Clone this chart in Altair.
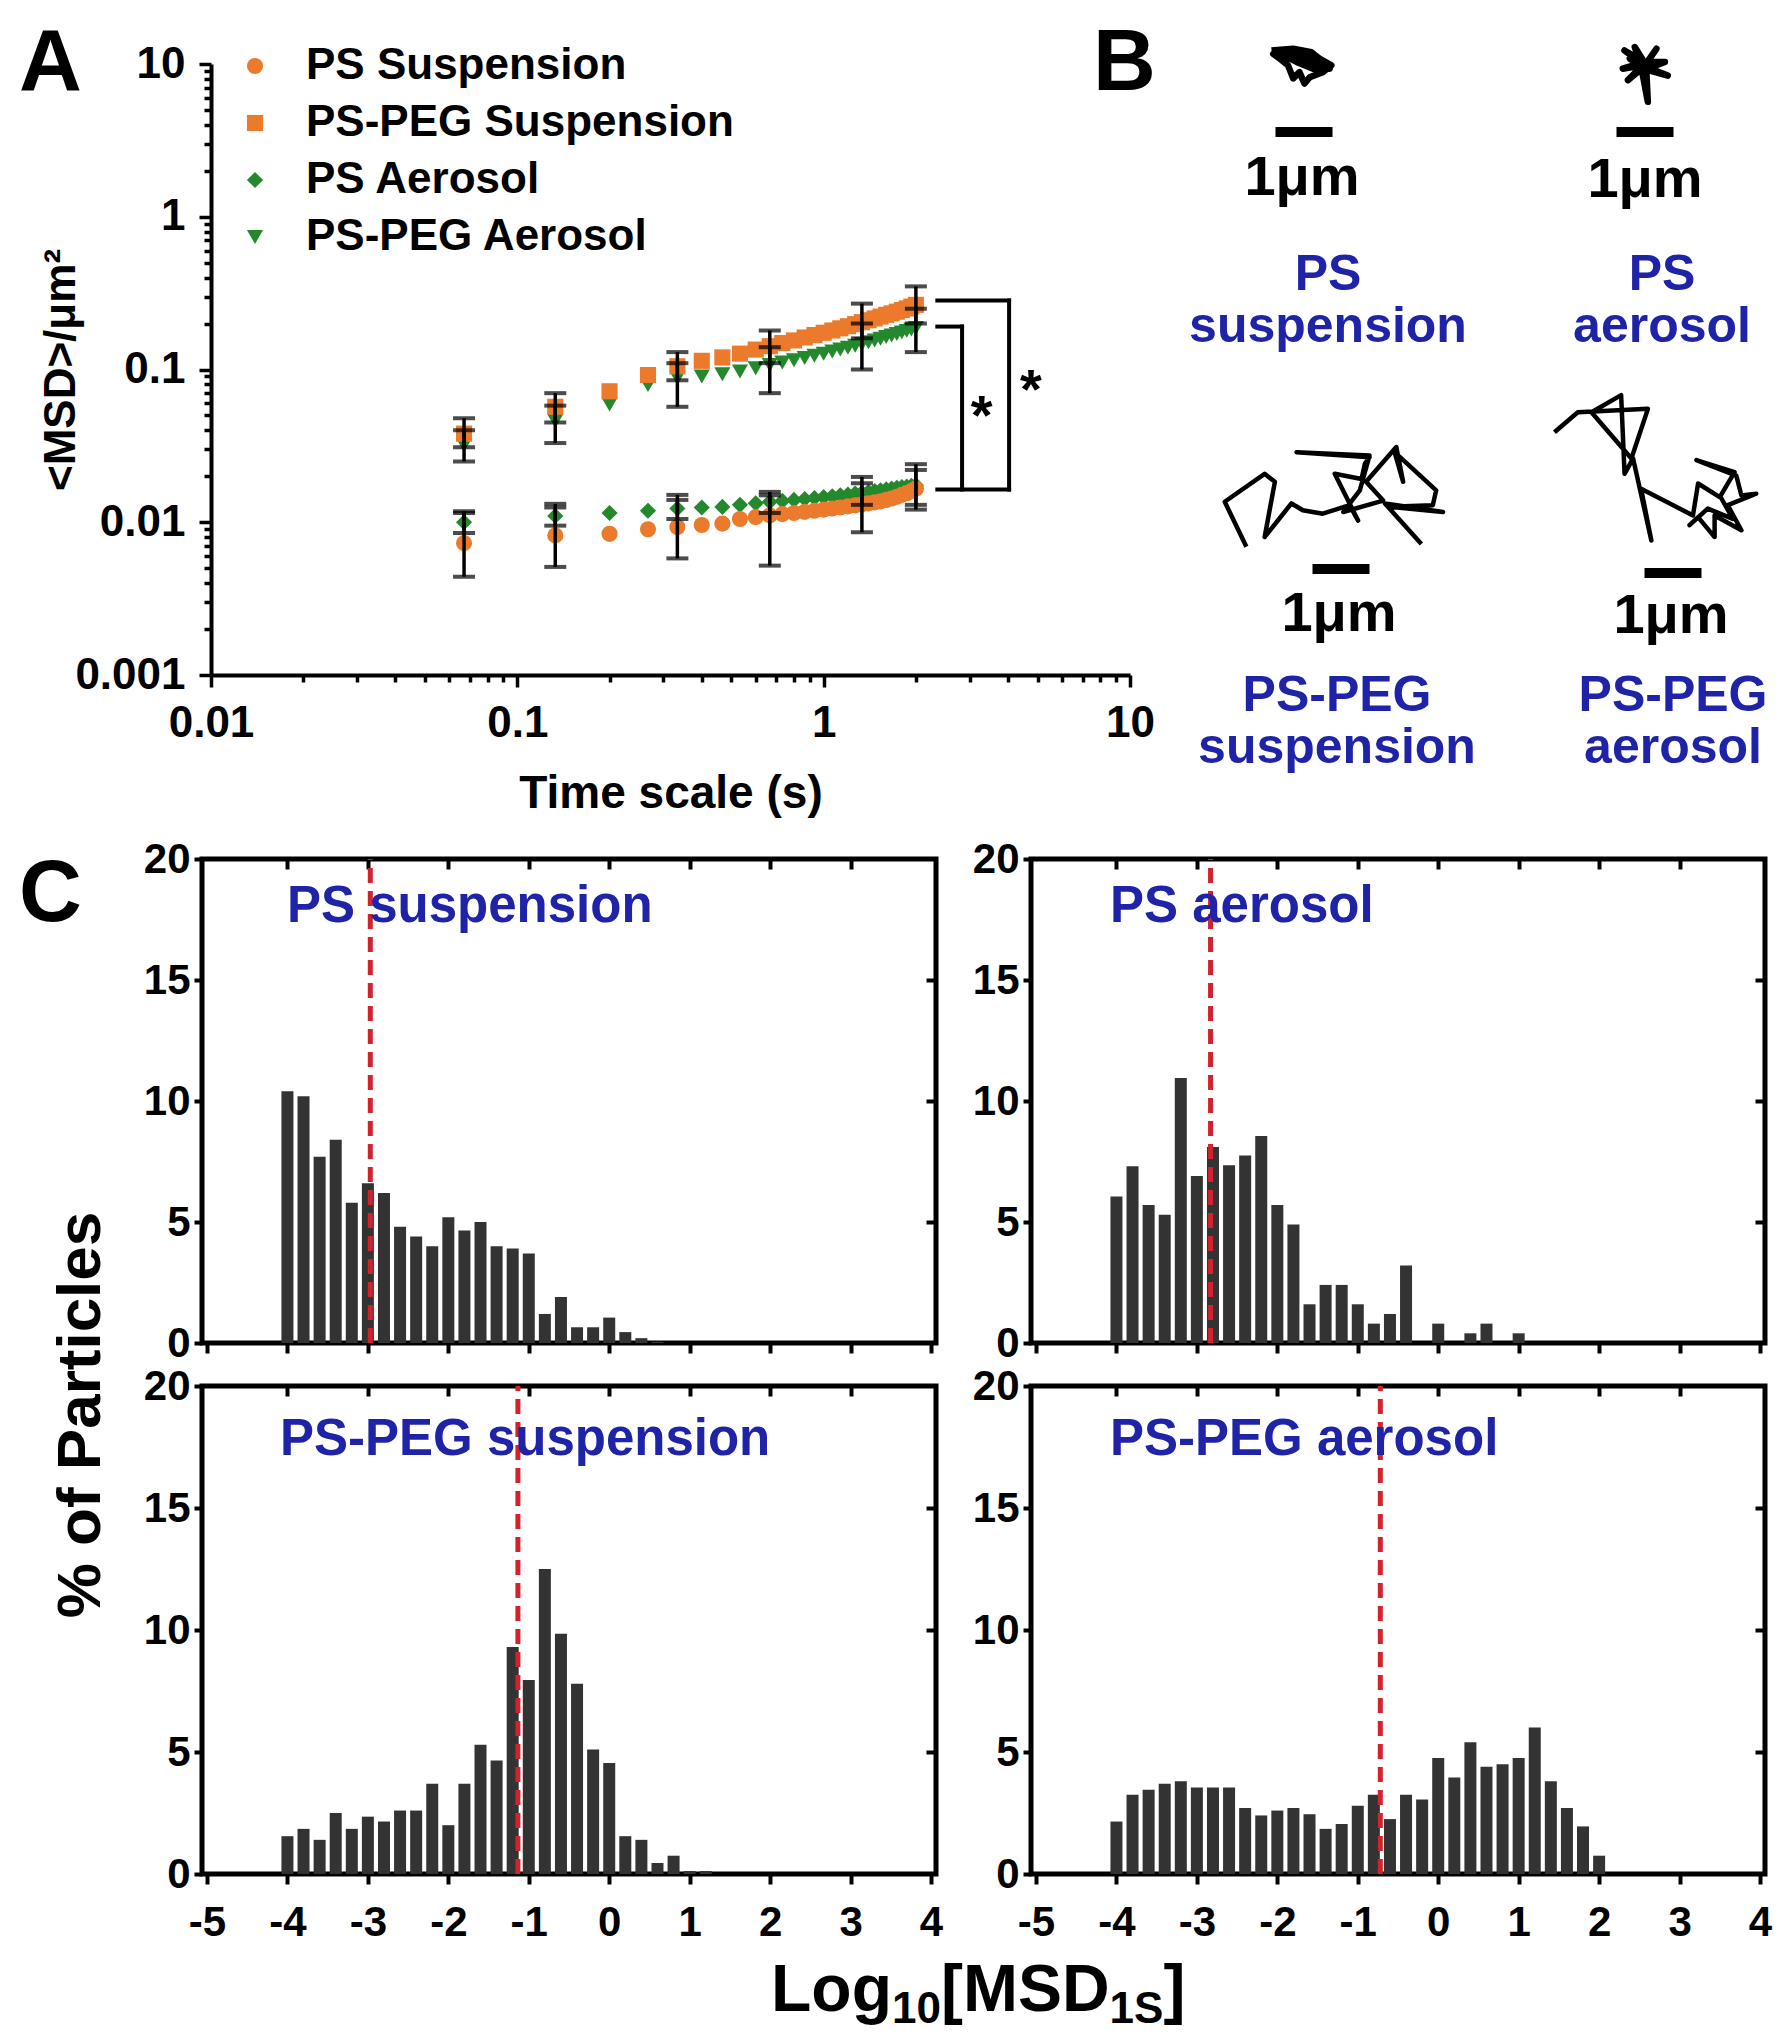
import altair as alt
import pandas as pd

FONT = "Liberation Sans"
ORANGE = "#EC7A2C"
GREEN = "#24882C"
BLUE = "#1F23A8"
RED = "#D2232C"
BARGRAY = "#333333"

# ---------------- Panel A data ----------------
t_s = [0.067, 0.133, 0.2, 0.267, 0.333, 0.4, 0.467, 0.533, 0.6, 0.667,
       0.733, 0.8, 0.867, 0.933, 1.0, 1.067, 1.133, 1.2, 1.267, 1.333,
       1.4, 1.467, 1.533, 1.6, 1.667, 1.733, 1.8, 1.867, 1.933, 2.0]
msd_ps_susp = [0.0073, 0.0082, 0.0084, 0.0090, 0.0093, 0.0096, 0.0098, 0.0105, 0.0108, 0.0111,
               0.0113, 0.0115, 0.0117, 0.0119, 0.0121, 0.0123, 0.0125, 0.0127, 0.0129, 0.0131,
               0.0133, 0.0135, 0.0137, 0.0140, 0.0143, 0.0147, 0.0151, 0.0155, 0.0160, 0.0166]
msd_peg_susp = [0.038, 0.057, 0.072, 0.092, 0.105, 0.114, 0.120, 0.127, 0.135, 0.142,
                0.149, 0.155, 0.162, 0.168, 0.174, 0.180, 0.186, 0.192, 0.198, 0.204,
                0.210, 0.216, 0.222, 0.228, 0.233, 0.239, 0.245, 0.251, 0.258, 0.265]
msd_ps_aero = [0.0100, 0.0110, 0.0115, 0.0119, 0.0123, 0.0125, 0.0126, 0.0130, 0.0133, 0.0136,
               0.0138, 0.0140, 0.0142, 0.0144, 0.0146, 0.0148, 0.0150, 0.0152, 0.0154, 0.0156,
               0.0158, 0.0160, 0.0162, 0.0164, 0.0166, 0.0168, 0.0170, 0.0171, 0.0173, 0.0175]
msd_peg_aero = [0.032, 0.046, 0.059, 0.079, 0.088, 0.090, 0.093, 0.097, 0.102, 0.107,
                0.111, 0.115, 0.119, 0.123, 0.127, 0.131, 0.135, 0.139, 0.143, 0.147,
                0.151, 0.155, 0.159, 0.163, 0.167, 0.171, 0.175, 0.179, 0.183, 0.187]
series_names = ["PS Suspension", "PS-PEG Suspension", "PS Aerosol", "PS-PEG Aerosol"]

err_t = [0.067, 0.133, 0.333, 0.667, 1.333, 2.0]
err_lo_ps_susp = [0.0044, 0.0051, 0.0058, 0.0052, 0.0086, 0.0121]
err_hi_ps_susp = [0.0115, 0.0125, 0.0140, 0.0150, 0.0180, 0.0220]
err_lo_peg_susp = [0.031, 0.045, 0.085, 0.110, 0.160, 0.200]
err_hi_peg_susp = [0.048, 0.070, 0.130, 0.180, 0.270, 0.350]
err_lo_ps_aero = [0.0085, 0.0095, 0.0105, 0.0115, 0.0130, 0.0130]
err_hi_ps_aero = [0.0118, 0.0132, 0.0151, 0.0158, 0.0198, 0.0240]
err_lo_peg_aero = [0.025, 0.033, 0.057, 0.070, 0.100, 0.130]
err_hi_peg_aero = [0.040, 0.058, 0.110, 0.140, 0.200, 0.250]

bracket_x1 = [2.35, 4.03, 2.35, 2.35, 2.83]
bracket_x2 = [4.03, 4.03, 4.03, 2.83, 2.83]
bracket_y1 = [0.283, 0.283, 0.0164, 0.191, 0.191]
bracket_y2 = [0.283, 0.0164, 0.0164, 0.191, 0.0164]
star_x = [3.28, 4.75]
star_y = [0.055, 0.082]

# ---------------- Panel B data (trajectories, um, relative to the scale bar centre) ----------------
traj_ps_susp_x = [-0.57, -0.19, 0.13, 0.27, 0.48, 0.33, 0.10, 0.01, -0.08, -0.19, -0.28, -0.43,
                  -0.54, -0.34, -0.02, 0.22, 0.45, 0.16, -0.13, -0.37, -0.02, 0.27, 0.04, -0.25]
traj_ps_susp_y = [1.43, 1.46, 1.40, 1.29, 1.17, 1.05, 0.96, 0.85, 1.05, 0.94, 1.17, 1.29,
                  1.37, 1.37, 1.26, 1.20, 1.11, 1.11, 1.23, 1.35, 1.35, 1.23, 1.17, 1.29]
traj_ps_aero_x = [-0.01, -0.36, 0.02, 0.20, -0.04, 0.40, 0.02, 0.05, -0.06, -0.30, -0.04, -0.39,
                  0.00, 0.35, -0.04, -0.18, 0.02, -0.27, 0.08]
traj_ps_aero_y = [1.17, 1.43, 1.20, 1.46, 1.11, 0.99, 1.14, 0.53, 1.11, 0.91, 1.17, 1.11,
                  1.23, 1.23, 1.08, 1.49, 1.17, 1.29, 1.05]
traj_peg_susp_x = [-1.66, -2.04, -1.34, -1.16, -1.34, -0.87, -0.67, -0.32, 0.15, 0.30, -0.11, 0.36,
                   0.42, 0.50, -0.78, 0.50, 0.33, 0.04, 0.74, 0.44, 0.97, 1.09, 0.94, 1.67, 1.61,
                   0.85, 1.79, 0.77, 1.41]
traj_peg_susp_y = [0.39, 1.18, 1.67, 1.53, 0.56, 1.15, 1.03, 0.97, 1.12, 0.85, 1.67, 1.58,
                   1.85, 1.96, 2.05, 1.99, 1.38, 1.00, 1.20, 1.53, 2.14, 1.53, 2.05, 1.38, 1.12,
                   1.09, 1.00, 1.15, 0.44]
traj_peg_aero_x = [-2.08, -1.67, -0.44, -0.73, -1.43, -0.91, -0.85, -0.70, -0.38, -0.56, 0.35, 0.44,
                   0.82, 1.08, 0.41, 1.11, 1.20, 1.46, 0.96, 1.20, 0.73, 0.73, 0.44, 0.29, 0.61,
                   1.05, 0.82]
traj_peg_aero_y = [2.47, 2.82, 2.88, 2.01, 2.82, 3.12, 1.74, 2.01, 0.57, 1.48, 1.01, 1.57,
                   1.33, 1.77, 1.98, 1.71, 1.36, 1.39, 1.19, 0.75, 1.01, 0.63, 0.98, 0.84, 1.13,
                   0.95, 1.36]
b_names = [("PS", "suspension"), ("PS", "aerosol"), ("PS-PEG", "suspension"), ("PS-PEG", "aerosol")]

# ---------------- Panel C data (histograms, bin centres of Log10 MSD) ----------------
bin_centers = [-4.0, -3.8, -3.6, -3.4, -3.2, -3.0, -2.8, -2.6, -2.4, -2.2, -2.0, -1.8, -1.6,
               -1.4, -1.2, -1.0, -0.8, -0.6, -0.4, -0.2, 0.0, 0.2, 0.4, 0.6, 0.8, 1.0, 1.2,
               1.4, 1.6, 1.8, 2.0]
pct_ps_susp = [10.4, 10.2, 7.7, 8.4, 5.8, 6.6, 6.2, 4.8, 4.4, 4.0, 5.2, 4.65, 5.0, 4.0, 3.9,
               3.7, 1.2, 1.9, 0.65, 0.65, 1.05, 0.45, 0.2, 0.05]
pct_ps_aero = [6.05, 7.3, 5.7, 5.3, 10.95, 6.9, 8.1, 7.35, 7.75, 8.55, 5.7, 4.9, 1.6, 2.4, 2.4,
               1.6, 0.8, 1.2, 3.2, 0.0, 0.8, 0.0, 0.4, 0.8, 0.0, 0.4]
pct_peg_susp = [1.55, 1.85, 1.4, 2.5, 1.85, 2.35, 2.15, 2.6, 2.6, 3.7, 2.0, 3.7, 5.3, 4.65, 9.3,
                7.95, 12.5, 9.85, 7.8, 5.1, 4.55, 1.55, 1.4, 0.45, 0.75, 0.12, 0.12]
pct_peg_aero = [2.15, 3.25, 3.45, 3.7, 3.8, 3.55, 3.55, 3.55, 2.7, 2.4, 2.6, 2.7, 2.45, 1.85,
                2.05, 2.8, 3.25, 2.25, 3.25, 3.05, 4.75, 3.95, 5.4, 4.4, 4.5, 4.75, 6.0, 3.8,
                2.7, 1.95, 0.75]
median_ps_susp = -2.97
median_ps_aero = -2.83
median_peg_susp = -1.135
median_peg_aero = -0.72

# ---------------- layout (page pixels) ----------------
A_LEFT, A_TOP, A_W, A_H = 208, 62, 919, 611
C_LEFT, C12_LEFT, C_W = 199, 1028, 734
SPACER_W, TOP_GAP = 1, 8                      # A starts 9 px right of panel C
B_LEFT = A_LEFT + A_W + TOP_GAP
B_W, B_H = 1775 - B_LEFT, 611
PX_PER_UM = 57.0
b_bar_page = [(1301, 130), (1642, 130), (1338, 567), (1670, 571)]
b_um_page = [(1299, 176), (1642, 178), (1336, 612), (1668, 614)]
b_name_page = [(1325, 273), (1659, 273), (1334, 694), (1670, 694)]
B_LINE_GAP = 52
ROW_GAP_TOP_C = 18
LETTER_SIZE = 87

# =====================================================================
# Panel A
# =====================================================================
x_major = [0.01, 0.1, 1, 10]
x_minor = [0.02, 0.03, 0.04, 0.05, 0.06, 0.07, 0.08, 0.09,
           0.2, 0.3, 0.4, 0.5, 0.6, 0.7, 0.8, 0.9,
           2, 3, 4, 5, 6, 7, 8, 9]
y_major = [0.001, 0.01, 0.1, 1, 10]
y_minor = [0.002, 0.003, 0.004, 0.005, 0.006, 0.007, 0.008, 0.009] + x_minor

x_test = "indexof([0.01, 0.1, 1, 10], datum.value) >= 0"
y_test = "indexof([0.001, 0.01, 0.1, 1, 10], datum.value) >= 0"

common_axis = dict(labelFont=FONT, labelFontWeight="bold", labelColor="black",
                   titleFont=FONT, titleFontWeight="bold", titleColor="black",
                   domainColor="black", domainWidth=4, tickColor="black", tickWidth=3.5,
                   grid=False, labelOverlap=False, labelFlush=False)

axisXA = alt.Axis(values=x_major + x_minor,
                  labelExpr=f"{x_test} ? format(datum.value, '~g') : ''",
                  tickSize={"condition": {"test": x_test, "value": 12}, "value": 7},
                  labelFontSize=44, labelPadding=14, title="Time scale (s)",
                  titleFontSize=46, titlePadding=26, **common_axis)
axisYA = alt.Axis(values=y_major + y_minor,
                  labelExpr=f"{y_test} ? format(datum.value, '~g') : ''",
                  tickSize={"condition": {"test": y_test, "value": 12}, "value": 7},
                  labelFontSize=44, labelPadding=14, title="<MSD>/μm²",
                  titleFontSize=44, titleX=58 - A_LEFT, titleY=A_H / 2, titleBaseline="middle",
                  **common_axis)
xscaleA = alt.Scale(type="log", domain=[0.01, 10], nice=False)
yscaleA = alt.Scale(type="log", domain=[0.001, 10], nice=False)


def XA(f):
    return alt.X(f, type="quantitative", scale=xscaleA, axis=axisXA)


def YA(f):
    return alt.Y(f, type="quantitative", scale=yscaleA, axis=axisYA)


pt_rows = []
for name, vals in [("PS Aerosol", msd_ps_aero), ("PS-PEG Aerosol", msd_peg_aero),
                   ("PS Suspension", msd_ps_susp), ("PS-PEG Suspension", msd_peg_susp)]:
    for tt, v in zip(t_s, vals):
        pt_rows.append({"t": tt, "msd": v, "series": name})
df_pts = pd.DataFrame(pt_rows)

err_rows = []
for lo, hi in [(err_lo_ps_aero, err_hi_ps_aero), (err_lo_peg_aero, err_hi_peg_aero),
               (err_lo_ps_susp, err_hi_ps_susp), (err_lo_peg_susp, err_hi_peg_susp)]:
    for tt, a, b in zip(err_t, lo, hi):
        err_rows.append({"t": tt, "lo": a, "hi": b})
df_err = pd.DataFrame(err_rows)

legendA = alt.Legend(orient="none", legendX=31, legendY=-20, title=None, padding=0,
                     labelFont=FONT, labelFontSize=44, labelFontWeight="bold",
                     labelColor="black", labelLimit=0, symbolSize=260, labelOffset=29,
                     rowPadding=13, symbolStrokeWidth=0)

pts = alt.Chart(df_pts).mark_point(filled=True, size=260, opacity=1).encode(
    x=XA("t"), y=YA("msd"),
    color=alt.Color("series:N", scale=alt.Scale(domain=series_names,
                                                range=[ORANGE, ORANGE, GREEN, GREEN]),
                    legend=legendA),
    shape=alt.Shape("series:N", scale=alt.Scale(domain=series_names,
                                                range=["circle", "square", "diamond", "triangle-down"]),
                    legend=legendA),
)
err_rule = alt.Chart(df_err).mark_rule(color="black", strokeWidth=3.5).encode(
    x=XA("t"), y=YA("lo"), y2="hi:Q")
cap_lo = alt.Chart(df_err).mark_tick(orient="horizontal", size=22, thickness=4, color="black").encode(
    x=XA("t"), y=YA("lo"))
cap_hi = alt.Chart(df_err).mark_tick(orient="horizontal", size=22, thickness=4, color="black").encode(
    x=XA("t"), y=YA("hi"))

df_br = pd.DataFrame({"x1": bracket_x1, "x2": bracket_x2, "y1": bracket_y1, "y2": bracket_y2})
brackets = alt.Chart(df_br).mark_rule(color="black", strokeWidth=4, strokeCap="square").encode(
    x=XA("x1"), x2="x2:Q", y=YA("y1"), y2="y2:Q")
df_star = pd.DataFrame({"x": star_x, "y": star_y, "s": ["*", "*"]})
stars = alt.Chart(df_star).mark_text(font=FONT, fontSize=56, fontWeight="bold", color="black",
                                     baseline="middle", dy=8).encode(
    x=XA("x"), y=YA("y"), text="s:N")


def txt(s, x, y, size, angle=0, align="left", baseline="alphabetic", color="black", **extra):
    kw = dict(font=FONT, fontSize=size, fontWeight="bold", color=color, align=align,
              baseline=baseline, **extra)
    if angle:
        kw["angle"] = angle
    return alt.Chart(pd.DataFrame({"s": [s]})).mark_text(**kw).encode(
        text="s:N", x=alt.value(x), y=alt.value(y))


letterA = txt("A", 16 - A_LEFT, 88 - A_TOP, LETTER_SIZE)

panelA = alt.layer(pts, err_rule, cap_lo, cap_hi, brackets, stars, letterA).properties(
    width=A_W, height=A_H)

# =====================================================================
# Panel B (one chart, 57 px per micrometre)
# =====================================================================
bx = [(p[0] - B_LEFT) / PX_PER_UM for p in b_bar_page]
by = [(A_TOP - p[1]) / PX_PER_UM for p in b_bar_page]
trajs = [(traj_ps_susp_x, traj_ps_susp_y), (traj_ps_aero_x, traj_ps_aero_y),
         (traj_peg_susp_x, traj_peg_susp_y), (traj_peg_aero_x, traj_peg_aero_y)]
tr_rows = []
for k, (tx, ty) in enumerate(trajs):
    for i, (xv, yv) in enumerate(zip(tx, ty)):
        tr_rows.append({"panel": k, "i": i, "x": xv + bx[k], "y": yv + by[k]})
df_tr = pd.DataFrame(tr_rows)
df_bar = pd.DataFrame({"x0": [v - 0.5 for v in bx], "x1": [v + 0.5 for v in bx], "y": by})

xsB = alt.Scale(domain=[0, B_W / PX_PER_UM], nice=False, zero=False)
ysB = alt.Scale(domain=[-B_H / PX_PER_UM, 0], nice=False, zero=False)


def traj_layer(panels, width):
    return alt.Chart(df_tr[df_tr["panel"].isin(panels)]).mark_line(
        color="black", strokeWidth=width, strokeJoin="round").encode(
        x=alt.X("x:Q", scale=xsB, axis=None), y=alt.Y("y:Q", scale=ysB, axis=None),
        detail="panel:N", order="i:Q")


bars_B = alt.Chart(df_bar).mark_rule(color="black", strokeWidth=10).encode(
    x=alt.X("x0:Q", scale=xsB, axis=None), x2="x1:Q", y=alt.Y("y:Q", scale=ysB, axis=None))
b_layers = [traj_layer([0, 1], 6.5), traj_layer([2, 3], 4.5), bars_B]
for (ux, uy), (nx, ny), (l1, l2) in zip(b_um_page, b_name_page, b_names):
    b_layers.append(txt("1μm", ux - B_LEFT, uy - A_TOP, 56, align="center", baseline="middle"))
    b_layers.append(txt(l1, nx - B_LEFT, ny - A_TOP, 50, align="center", baseline="middle",
                        color=BLUE))
    b_layers.append(txt(l2, nx - B_LEFT, ny - A_TOP + B_LINE_GAP, 50, align="center",
                        baseline="middle", color=BLUE))
b_layers.append(txt("B", 1090 - B_LEFT, 88 - A_TOP, LETTER_SIZE))
panelB = alt.layer(*b_layers).properties(width=B_W, height=B_H)

# =====================================================================
# Panel C
# =====================================================================
hist_axis = dict(labelFont=FONT, labelFontWeight="bold", labelColor="black",
                 tickColor="black", tickWidth=4, domain=False, grid=False,
                 labelOverlap=False, labelFlush=False, title=None)


def hist(heights, median, label, label_xy, w, h, x_labels, extra=None):
    df = pd.DataFrame({"c": bin_centers[:len(heights)], "p": heights})
    xs = alt.Scale(domain=[-5, 4], nice=False, zero=False)
    ys = alt.Scale(domain=[0, 20], nice=False)
    ax_b = alt.Axis(values=list(range(-5, 5)), labelExpr="'' + datum.value", labels=x_labels,
                    tickSize=10, labelFontSize=42, labelPadding=18, **hist_axis)
    ax_l = alt.Axis(values=[0, 5, 10, 15, 20], tickSize=8, labelFontSize=42, labelPadding=4,
                    **hist_axis)
    ax_t = alt.Axis(orient="top", values=list(range(-4, 4)), labels=False, tickSize=10,
                    offset=-10, **hist_axis)
    ax_r = alt.Axis(orient="right", values=[5, 10, 15], labels=False, tickSize=10,
                    offset=-10, **hist_axis)
    bars = alt.Chart(df).mark_bar(size=12, color=BARGRAY).encode(
        x=alt.X("c:Q", scale=xs, axis=ax_b), y=alt.Y("p:Q", scale=ys, axis=ax_l))
    med = alt.Chart(pd.DataFrame({"m": [median], "y0": [0], "y1": [20]})).mark_rule(
        color=RED, strokeWidth=5, strokeDash=[15, 8]).encode(
        x=alt.X("m:Q", scale=xs, axis=ax_t), y=alt.Y("y0:Q", scale=ys, axis=ax_r), y2="y1:Q")
    lab = txt(label, label_xy[0], label_xy[1], 51, baseline="middle", color=BLUE)
    layers = [bars, med, lab] + (extra or [])
    return alt.layer(*layers).resolve_axis(x="independent", y="independent").properties(
        width=w, height=h, view=alt.ViewBackground(stroke="black", strokeWidth=5))


c11_extra = [txt("C", 16 - C_LEFT, 62, LETTER_SIZE),
             txt("% of Particles", 78 - C_LEFT, 556, 62, angle=270, align="center",
                 baseline="middle")]
lx = 768 - C_LEFT
c21_extra = [txt("Log", lx, 625, 66), txt("10", lx + 121, 637, 44), txt("[MSD", lx + 170, 625, 66),
             txt("1S", lx + 338.6, 637, 44), txt("]", lx + 392.4, 625, 66)]

C11 = hist(pct_ps_susp, median_ps_susp, "PS suspension", (284 - C_LEFT, 48), C_W, 484, False,
           c11_extra)
C12 = hist(pct_ps_aero, median_ps_aero, "PS aerosol", (1107 - C12_LEFT, 48), C_W, 484, False)
C21 = hist(pct_peg_susp, median_peg_susp, "PS-PEG suspension", (277 - C_LEFT, 54), C_W, 488, True,
           c21_extra)
C22 = hist(pct_peg_aero, median_peg_aero, "PS-PEG aerosol", (1107 - C12_LEFT, 54), C_W, 488, True)

spacer = alt.Chart(pd.DataFrame({"v": [0]})).mark_point(opacity=0).encode(
    x=alt.value(0), y=alt.value(0)).properties(width=SPACER_W, height=A_H)

top_row = alt.hconcat(spacer, panelA, panelB, spacing=TOP_GAP, bounds="flush")
panelC = alt.concat(C11, C12, C21, C22, columns=2, bounds="flush",
                    spacing={"row": 43, "column": C12_LEFT - C_LEFT - C_W})

chart = alt.vconcat(top_row, panelC, spacing=ROW_GAP_TOP_C).properties(
    padding={"left": 8, "top": 11, "right": 0, "bottom": 0}
).configure_view(stroke="transparent")

chart.save("out.html", embed_options={"renderer": "svg", "actions": False})
